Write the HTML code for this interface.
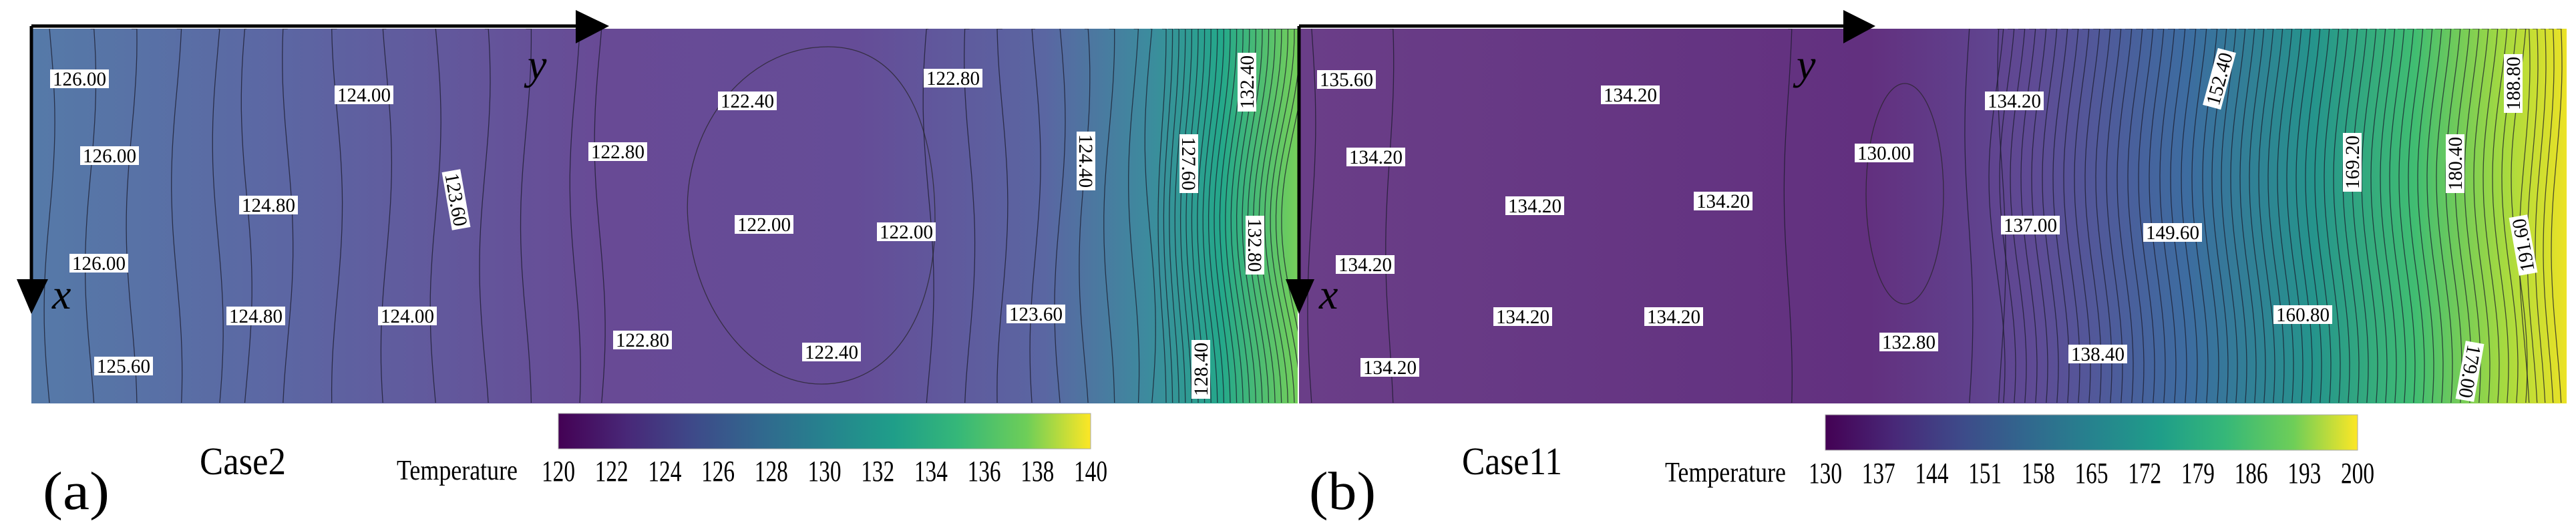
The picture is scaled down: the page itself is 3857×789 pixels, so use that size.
<!DOCTYPE html>
<html><head><meta charset="utf-8"><style>
html,body{margin:0;padding:0;background:#fff;width:3857px;height:789px;overflow:hidden}
svg{display:block}
svg text{font-family:"Liberation Serif","Times New Roman",serif}
</style></head><body>
<svg id="s" width="3857" height="789" viewBox="0 0 3857 789" xmlns="http://www.w3.org/2000/svg" font-family="Liberation Serif, serif">
<defs>
<linearGradient id="ga" x1="0" x2="1" y1="0" y2="0">
<stop offset="0" stop-color="#557aa8"/>
<stop offset="0.2" stop-color="#5c66a3"/>
<stop offset="0.45" stop-color="#684a95"/>
<stop offset="0.65" stop-color="#654c97"/>
<stop offset="0.8" stop-color="#5a66a2"/>
<stop offset="0.88" stop-color="#3d8a9e"/>
<stop offset="0.94" stop-color="#24a88a"/>
<stop offset="1" stop-color="#75d05a"/>
</linearGradient>
<linearGradient id="gb" x1="0" x2="1" y1="0" y2="0">
<stop offset="0" stop-color="#6a3e88"/>
<stop offset="0.45" stop-color="#62307f"/>
<stop offset="0.58" stop-color="#5f4b95"/>
<stop offset="0.7" stop-color="#3d6ca0"/>
<stop offset="0.8" stop-color="#25948c"/>
<stop offset="0.88" stop-color="#40bd72"/>
<stop offset="0.95" stop-color="#a5da40"/>
<stop offset="1" stop-color="#ece225"/>
</linearGradient>
<linearGradient id="vir" x1="0" x2="1" y1="0" y2="0">
<stop offset="0" stop-color="#440154"/>
<stop offset="0.13" stop-color="#482878"/>
<stop offset="0.25" stop-color="#3e4989"/>
<stop offset="0.38" stop-color="#31688e"/>
<stop offset="0.5" stop-color="#26828e"/>
<stop offset="0.63" stop-color="#1f9e89"/>
<stop offset="0.75" stop-color="#35b779"/>
<stop offset="0.88" stop-color="#6ece58"/>
<stop offset="1" stop-color="#fde725"/>
</linearGradient>
<clipPath id="ca"><rect x="47" y="43" width="1896" height="561"/></clipPath>
<clipPath id="cb"><rect x="1945" y="43" width="1898" height="561"/></clipPath>
</defs>
<rect x="47" y="43" width="1896" height="561" fill="url(#ga)"/>
<rect x="1945" y="43" width="1898" height="561" fill="url(#gb)"/>
<g id="linesA" clip-path="url(#ca)" fill="none" stroke="#1a1a2a" stroke-width="1.3" stroke-opacity="0.75"></g>
<g id="linesB" clip-path="url(#cb)" fill="none" stroke="#1a1a2a" stroke-width="1.3" stroke-opacity="0.75"></g>
<path d="M1240 70 C1360 70 1400 200 1400 330 C1400 480 1330 575 1230 575 C1130 575 1040 470 1030 330 C1020 200 1110 70 1240 70 Z" fill="none" stroke="#222" stroke-width="1.3" stroke-opacity="0.7"/>
<ellipse cx="2852" cy="290" rx="58" ry="165" fill="none" stroke="#222" stroke-width="1.3" stroke-opacity="0.7"/>
<g id="labels"></g>
<path d="M47 39 H870" stroke="#000" stroke-width="5"/>
<path d="M862 15 L912 39 L862 65 Z" fill="#000"/>
<path d="M47 39 V430" stroke="#000" stroke-width="5"/>
<path d="M25 418 L47 470 L72 418 Z" fill="#000"/>
<text x="790" y="118" font-size="64" font-style="italic" font-family="Liberation Serif, serif">y</text>
<text x="78" y="462" font-size="64" font-style="italic" font-family="Liberation Serif, serif">x</text>
<path d="M1945 39 H2770" stroke="#000" stroke-width="5"/>
<path d="M2760 15 L2808 39 L2760 65 Z" fill="#000"/>
<path d="M1945 39 V430" stroke="#000" stroke-width="5"/>
<path d="M1925 418 L1945 470 L1968 418 Z" fill="#000"/>
<text x="2690" y="118" font-size="64" font-style="italic" font-family="Liberation Serif, serif">y</text>
<text x="1975" y="462" font-size="64" font-style="italic" font-family="Liberation Serif, serif">x</text>
<rect x="836" y="619" width="797" height="53" fill="url(#vir)" stroke="#aaa"/>
<rect x="2733" y="621" width="797" height="53" fill="url(#vir)" stroke="#aaa"/>
<g font-size="44" text-anchor="middle" id="ticks" font-family="Liberation Serif, serif"></g>
<text x="594" y="718" font-size="42" textLength="181" lengthAdjust="spacingAndGlyphs" font-family="Liberation Serif, serif">Temperature</text>
<text x="2493" y="721" font-size="42" textLength="181" lengthAdjust="spacingAndGlyphs" font-family="Liberation Serif, serif">Temperature</text>
<text x="299" y="710" font-size="58" textLength="129" lengthAdjust="spacingAndGlyphs" font-family="Liberation Serif, serif">Case2</text>
<text x="2189" y="710" font-size="58" textLength="150" lengthAdjust="spacingAndGlyphs" font-family="Liberation Serif, serif">Case11</text>
<text x="64" y="762" font-size="80" textLength="100" lengthAdjust="spacingAndGlyphs" font-family="Liberation Serif, serif">(a)</text>
<text x="1960" y="762" font-size="80" textLength="100" lengthAdjust="spacingAndGlyphs" font-family="Liberation Serif, serif">(b)</text>
</svg>
<script>
var NS="http://www.w3.org/2000/svg";
function wl(L,x,amp,ph){var d="M"+x+" 43";for(var y=43;y<=604;y+=20){var xx=x+amp*Math.sin((y-43)/561*Math.PI*2+ph);d+=" L"+xx.toFixed(1)+" "+y;}var p=document.createElementNS(NS,"path");p.setAttribute("d",d);L.appendChild(p);}
var LA=document.getElementById("linesA"),LB=document.getElementById("linesB");
var za=[60,110,160,215,265,300,350,410,470,530,590,640,700,730,1130,1180,1220,1260,1290,1320,1350,1380,1400];
za.forEach(function(z,i){wl(LA,47+(z-38)*1.23,8,i*0.7);});
for(var x=1740;x<1940;x+=9){wl(LA,x,6+(x-1740)/15,1.5);}
var zb=[30,125,610,830,870];
zb.forEach(function(z,i){wl(LB,1927+z*1.23,6,i);});
for(var x=2990;x<3780;x+=(x<3300?16:14)){wl(LB,x,12,2.2);}
for(var x=3780;x<3840;x+=12){wl(LB,x,8,1);}
var G=document.getElementById("labels");
function lab(t,x,y,r){var g=document.createElementNS(NS,"g");g.setAttribute("transform","translate("+x+" "+y+") rotate("+(r||0)+")");
g.innerHTML='<rect x="-44" y="-14" width="88" height="28" fill="#fff"/><text x="0" y="10" font-size="30" font-family="Liberation Serif, serif" text-anchor="middle" textLength="80" lengthAdjust="spacingAndGlyphs">'+t+'</text>';G.appendChild(g);}
[["126.00",119,118],["124.00",545,142],["122.80",1427,117],["122.40",1119,151],["132.40",1867,123,-90],["126.00",164,233],["122.80",925,227],["123.60",683,299,80],["124.40",1626,241,90],["127.60",1780,245,90],["124.80",402,307],["122.00",1144,336],["122.00",1357,347],["132.80",1879,367,90],["126.00",148,394],["124.80",383,473],["124.00",610,473],["123.60",1551,470],["122.80",962,509],["122.40",1245,527],["125.60",185,548],["128.40",1798,553,-90],
["135.60",2016,119],["134.20",2441,142],["134.20",3016,151],["152.40",3323,118,-75],["188.80",3763,125,-90],["134.20",2060,235],["130.00",2821,229],["169.20",3522,243,-90],["180.40",3676,245,-90],["134.20",2298,308],["134.20",2580,301],["137.00",3040,337],["149.60",3253,348],["191.60",3778,367,-100],["134.20",2044,396],["134.20",2280,474],["134.20",2506,474],["160.80",3448,471],["132.80",2858,512],["138.40",3141,530],["134.20",2081,550],["179.00",3698,556,100]].forEach(function(a){lab(a[0],a[1],a[2],a[3]);});
var T=document.getElementById("ticks");var h="";
for(var i=0;i<=10;i++){h+='<text x="'+(836+i*79.7)+'" y="720" textLength="50" lengthAdjust="spacingAndGlyphs">'+(120+2*i)+'</text>';}
var vb=[130,137,144,151,158,165,172,179,186,193,200];
for(var i=0;i<=10;i++){h+='<text x="'+(2733+i*79.7)+'" y="723" textLength="50" lengthAdjust="spacingAndGlyphs">'+vb[i]+'</text>';}
T.innerHTML=h;
</script>
</body></html>
